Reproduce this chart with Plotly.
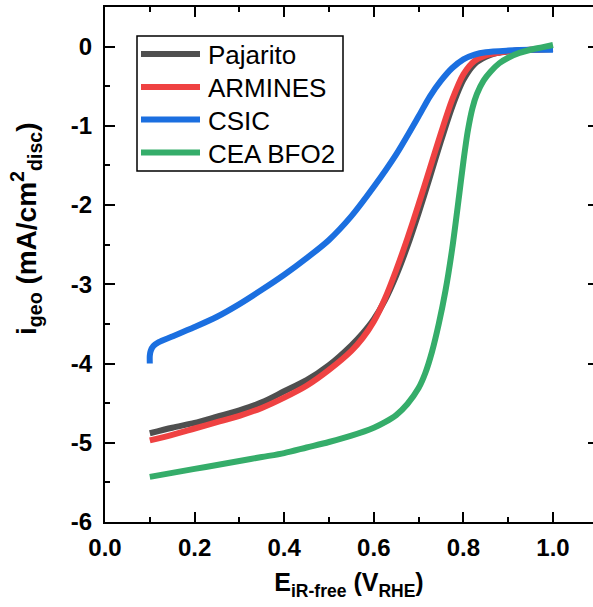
import plotly.graph_objects as go

# ---------------- data ----------------
E_pajarito = [0.100, 0.150, 0.200, 0.250, 0.300, 0.350, 0.400, 0.450, 0.500, 0.550, 0.575, 0.600,
              0.625, 0.650, 0.675, 0.700, 0.725, 0.750, 0.775, 0.800, 0.825, 0.850, 0.875, 0.900, 0.950, 1.000]
i_pajarito = [-4.88, -4.81, -4.75, -4.67, -4.59, -4.49, -4.35, -4.21, -4.02, -3.77, -3.62, -3.44,
              -3.20, -2.89, -2.52, -2.10, -1.65, -1.19, -0.76, -0.42, -0.22, -0.13, -0.08, -0.06, -0.04, -0.03]

E_armines = [0.100, 0.150, 0.200, 0.250, 0.300, 0.350, 0.400, 0.450, 0.500, 0.550, 0.575, 0.600,
             0.625, 0.650, 0.675, 0.700, 0.725, 0.750, 0.775, 0.800, 0.825, 0.850, 0.875, 0.900, 0.950, 1.000]
i_armines = [-4.97, -4.90, -4.82, -4.74, -4.66, -4.56, -4.43, -4.28, -4.08, -3.84, -3.68, -3.47,
             -3.18, -2.82, -2.42, -1.99, -1.54, -1.09, -0.67, -0.35, -0.18, -0.11, -0.08, -0.06, -0.04, -0.03]

E_csic = [0.100, 0.100, 0.102, 0.108, 0.120, 0.150, 0.200, 0.250, 0.300, 0.350, 0.400, 0.450, 0.500,
          0.550, 0.600, 0.650, 0.700, 0.725, 0.750, 0.775, 0.800, 0.825, 0.850, 0.900, 0.950, 1.000]
i_csic = [-4.00, -3.90, -3.84, -3.78, -3.73, -3.66, -3.54, -3.41, -3.25, -3.07, -2.88, -2.67, -2.44,
          -2.14, -1.77, -1.36, -0.88, -0.63, -0.43, -0.27, -0.16, -0.10, -0.07, -0.05, -0.04, -0.04]

E_cea = [0.100, 0.150, 0.200, 0.250, 0.300, 0.350, 0.400, 0.450, 0.500, 0.550, 0.600, 0.625, 0.650,
         0.675, 0.700, 0.715, 0.730, 0.745, 0.760, 0.775, 0.790, 0.800, 0.810, 0.820, 0.830, 0.845,
         0.860, 0.880, 0.900, 0.925, 0.950, 0.975, 1.000]
i_cea = [-5.43, -5.38, -5.33, -5.28, -5.23, -5.18, -5.13, -5.06, -4.99, -4.91, -4.81, -4.74, -4.65,
         -4.51, -4.31, -4.12, -3.85, -3.50, -3.08, -2.55, -1.90, -1.45, -1.06, -0.78, -0.60, -0.43,
         -0.32, -0.21, -0.14, -0.08, -0.04, -0.01, 0.02]

series_names = ["Pajarito", "ARMINES", "CSIC", "CEA BFO2"]
series_colors = ["#4f4f4f", "#ef4242", "#1b6fe0", "#35ad6a"]

x_tickvals = [0.0, 0.2, 0.4, 0.6, 0.8, 1.0]
x_ticktext = ["0.0", "0.2", "0.4", "0.6", "0.8", "1.0"]
y_tickvals = [-6, -5, -4, -3, -2, -1, 0]
y_ticktext = ["-6", "-5", "-4", "-3", "-2", "-1", "0"]

x_title = "E<sub>iR-free</sub> (V<sub>RHE</sub>)"
y_title = "i<sub>geo</sub> (mA/cm<sup>2</sup><sub>disc</sub>)"

# ---------------- figure ----------------
FONT = "Arial, Liberation Sans, sans-serif"
W, H = 593, 607
ML, MR, MT, MB = 105, 0, 7, 85
PW, PH = W - ML - MR, H - MT - MB
px_per_unit_x = 448.0
x_max = PW / px_per_unit_x
y_range = [-6, 0.5]


def px_x(px):
    return (px - ML) / PW


def px_y(py):
    return (H - MB - py) / PH


fig = go.Figure()
data = [(E_pajarito, i_pajarito), (E_armines, i_armines), (E_csic, i_csic), (E_cea, i_cea)]
for (E, I), name, color in zip(data, series_names, series_colors):
    fig.add_trace(go.Scatter(
        x=E, y=I, mode="lines", name=name, showlegend=False,
        line=dict(color=color, width=6, shape="spline", smoothing=0.8),
    ))

# invisible trace to carry the right-hand (mirror) tick axis
fig.add_trace(go.Scatter(x=E_csic, y=i_csic, yaxis="y2", mode="lines",
                         line=dict(width=0), opacity=0, showlegend=False,
                         hoverinfo="skip"))

# ---- legend drawn as a framed box with long line keys ----
shapes = [dict(type="rect", xref="paper", yref="paper",
               x0=px_x(137), x1=px_x(343), y0=px_y(171), y1=px_y(36),
               line=dict(color="black", width=1.5), fillcolor="white", layer="above")]
annotations = []
legend_rows = [54, 87, 119.5, 152.5]
for name, color, ry in zip(series_names, series_colors, legend_rows):
    shapes.append(dict(type="line", xref="paper", yref="paper",
                       x0=px_x(141), x1=px_x(200), y0=px_y(ry), y1=px_y(ry),
                       line=dict(color=color, width=6), layer="above"))
    annotations.append(dict(text=name, xref="paper", yref="paper",
                            x=px_x(206), y=px_y(ry + 1), xanchor="left", yanchor="middle",
                            showarrow=False,
                            font=dict(family=FONT, size=26, color="black")))

# y-axis title placed as rotated text
annotations.append(dict(text=y_title, xref="paper", yref="paper",
                        x=px_x(26), y=px_y(229), xanchor="center", yanchor="middle",
                        textangle=-90, showarrow=False,
                        font=dict(family=FONT, size=28, color="black", weight="bold")))

tickfont = dict(family=FONT, size=24, color="black", weight="bold")

fig.update_layout(
    width=W, height=H,
    margin=dict(l=ML, r=MR, t=MT, b=MB, pad=0),
    paper_bgcolor="white", plot_bgcolor="white",
    font=dict(family=FONT, color="black"),
    showlegend=False,
    shapes=shapes,
    annotations=annotations,
    xaxis=dict(
        range=[0, x_max], showgrid=False, zeroline=False,
        showline=True, linecolor="black", linewidth=2, mirror="ticks",
        ticks="inside", ticklen=10, tickwidth=2, tickcolor="black",
        tickvals=x_tickvals, ticktext=x_ticktext, tickfont=tickfont,
        minor=dict(ticks="inside", ticklen=5, tickwidth=2, tickcolor="black",
                   dtick=0.1, tick0=0, showgrid=False),
        title=dict(text=x_title,
                   font=dict(family=FONT, size=25, color="black", weight="bold"),
                   standoff=14),
        ticklabelstandoff=3,
    ),
    yaxis=dict(
        range=y_range, showgrid=False, zeroline=False,
        showline=True, linecolor="black", linewidth=2, mirror=False,
        ticks="inside", ticklen=10, tickwidth=2, tickcolor="black",
        tickvals=y_tickvals, ticktext=y_ticktext, tickfont=tickfont,
        minor=dict(ticks="inside", ticklen=5, tickwidth=2, tickcolor="black",
                   dtick=0.5, tick0=0, showgrid=False),
        ticklabelstandoff=6,
    ),
    yaxis2=dict(
        range=y_range, overlaying="y", side="right", anchor="x",
        showgrid=False, zeroline=False, showline=False,
        ticks="inside", ticklen=5, tickwidth=2, tickcolor="black",
        tickvals=y_tickvals, showticklabels=False,
    ),
)

fig.write_html("out.html")
